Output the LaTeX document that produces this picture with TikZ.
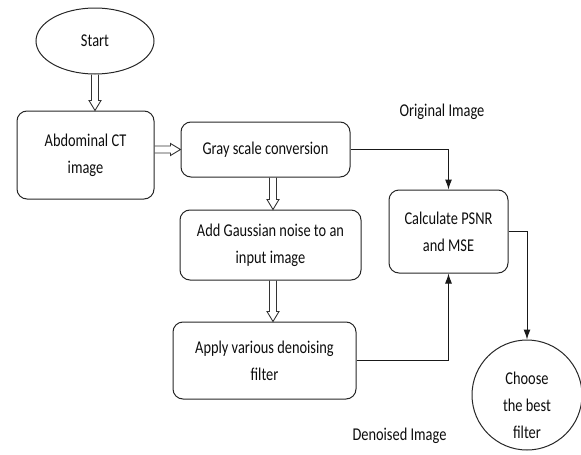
\documentclass[tikz,border=0pt]{standalone}
\usepackage{fontspec}
\setmainfont[FakeStretch=0.8]{Carlito}
\usetikzlibrary{shapes.geometric,calc,arrows.meta}

% hollow block arrow from #1 to #2 (shaft half-width 3.5pt, head 6pt x 10pt)
\newcommand\blockarrow[2]{%
  \draw[blockline]
    ($(#1)!3.5pt!90:(#2)$)
    -- ($(#2)!10pt!(#1)!3.5pt!-90:(#1)$)
    -- ($(#2)!10pt!(#1)!6pt!-90:(#1)$)
    -- (#2)
    -- ($(#2)!10pt!(#1)!6pt!90:(#1)$)
    -- ($(#2)!10pt!(#1)!3.5pt!90:(#1)$)
    -- ($(#1)!3.5pt!-90:(#2)$);
}

\begin{document}
\begin{tikzpicture}[x=1pt,y=-1pt,
  font=\fontsize{18}{27}\selectfont,
  every node/.style={text=black!95},
  box/.style={draw=black!85, line width=1pt, rounded corners=10pt,
    align=center, inner sep=0pt},
  blockline/.style={draw=black!80, line width=0.9pt, line join=miter},
  flow/.style={draw=black!90, line width=1pt, -{Latex[length=10pt,width=7pt]}},
  tag/.style={inner sep=0pt}
]
\useasboundingbox (0,0) rectangle (581,455);

% process blocks
\node[draw=black!85, line width=1pt, ellipse, minimum width=118pt, minimum height=66pt, inner sep=0pt]
  (start) at (95,41) {Start};
\node[box, minimum width=137pt, minimum height=88pt] (abd) at (85.5,155)
  {Abdominal CT\\image};
\node[box, minimum width=169pt, minimum height=55pt] (gray) at (265.5,149.5)
  {Gray scale conversion};
\node[box, minimum width=181pt, minimum height=70pt] (add) at (270.5,245)
  {Add Gaussian noise to an\\input image};
\node[box, minimum width=183pt, minimum height=77pt] (apply) at (264.5,360.5)
  {Apply various denoising\\filter};
\node[box, minimum width=119pt, minimum height=83pt] (calc) at (448.5,231.5)
  {Calculate PSNR\\and MSE};
\node[draw=black!85, line width=1pt, circle, minimum size=110pt, inner sep=0pt]
  (choose) at (527,395) {};
\node[tag, align=center] (choosetxt) at (527,405) {Choose\\the best\\filter};

% edge labels
\node[tag] (orig) at (442,112) {Original Image};
\node[tag] (den) at (399.5,436) {Denoised Image};

% anchor points for the off-centre block arrows
\coordinate (g1) at ($(gray.south)+(7.5,0)$);
\coordinate (a1) at ($(add.north)+(2.5,0)$);
\coordinate (a2) at ($(add.south)+(2.5,0)$);
\coordinate (p1) at ($(apply.north)+(8.5,0)$);
\coordinate (s1) at (start.south);
\coordinate (b1) at (start.south |- abd.north);
\coordinate (b2) at (abd.east |- gray.west);

% hollow arrows
\blockarrow{s1}{b1}
\blockarrow{b2}{gray.west}
\blockarrow{g1}{a1}
\blockarrow{a2}{p1}

% solid connectors
\draw[flow] (gray.east) -| (calc.north);
\draw[flow] (apply.east) -| (calc.south);
\draw[flow] (calc.east) -| (choose.north);
\end{tikzpicture}
\end{document}
